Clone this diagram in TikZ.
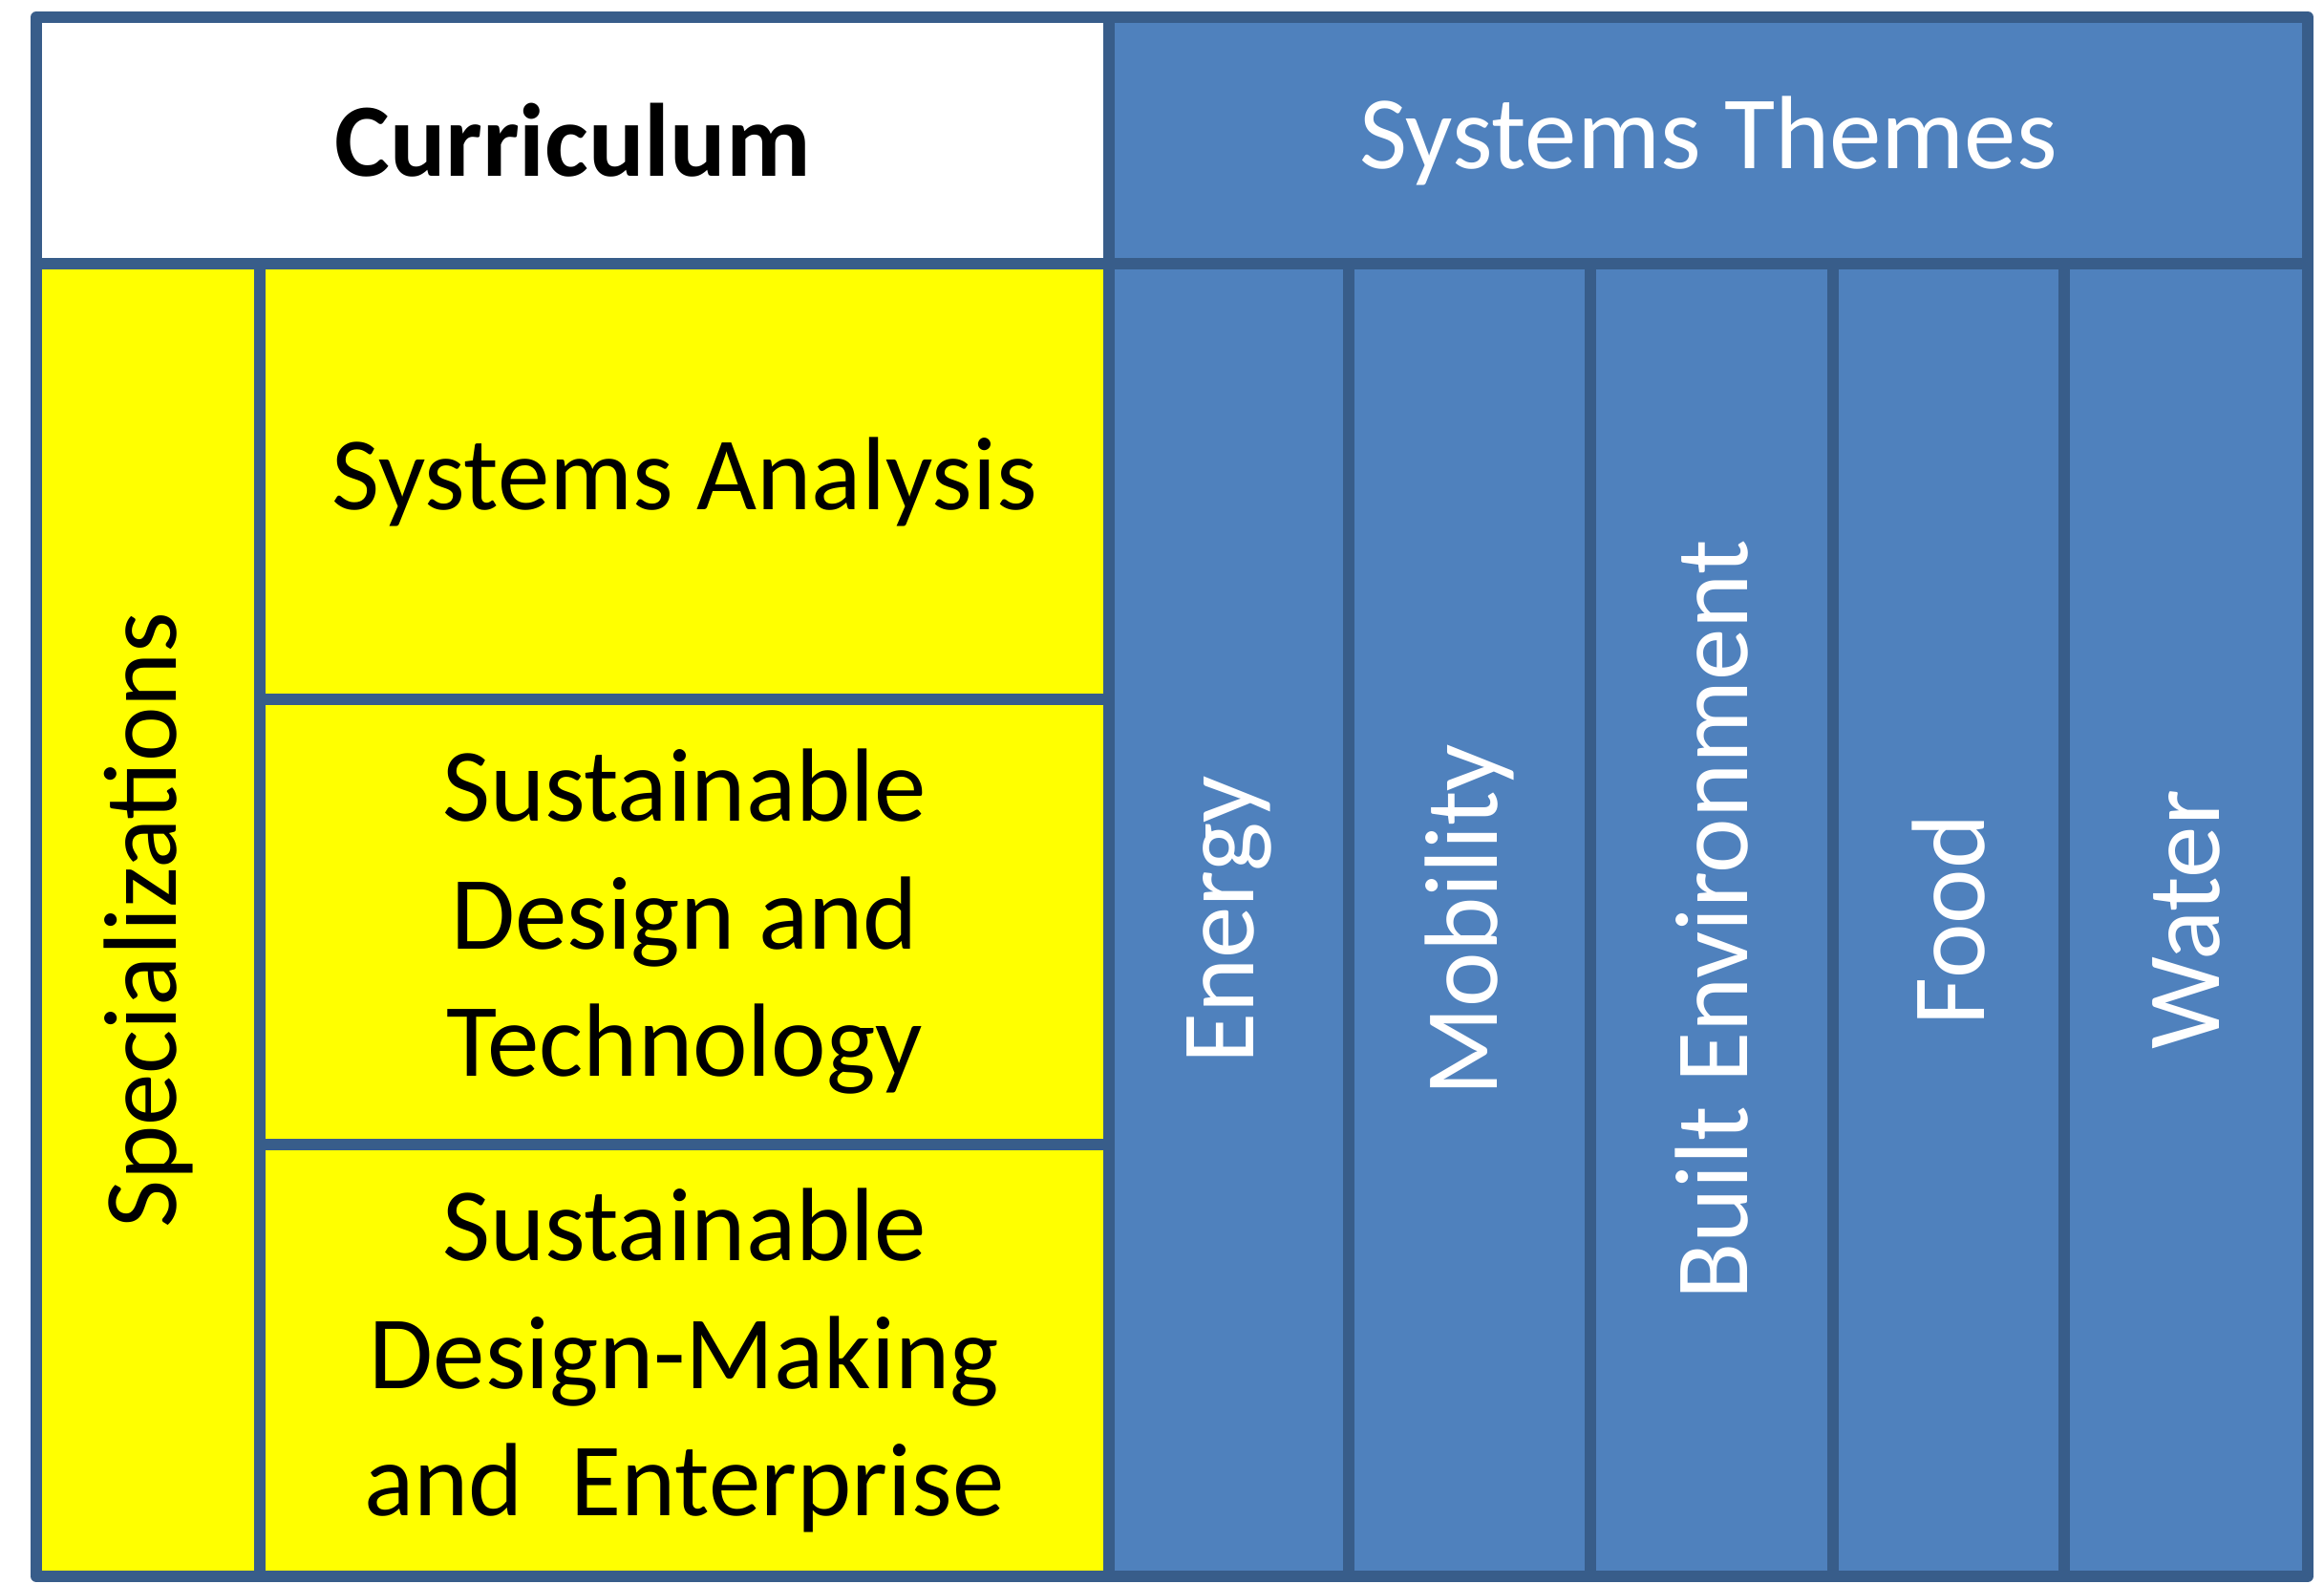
\documentclass[tikz,border=0pt]{standalone}
\usepackage{fontspec}
\setmainfont{Carlito}
\usepackage{graphicx}
\usepackage{tikz}
\usetikzlibrary{positioning}

\definecolor{frameblue}{HTML}{385D8A}
\definecolor{themeblue}{HTML}{4F81BD}
\definecolor{specyellow}{HTML}{FFFF00}

\begin{document}
\begin{tikzpicture}[
    cell/.style = {draw = frameblue, line width = 3.4pt, line join = round,
        inner sep = 0, outer sep = 0, align = center,
        font = \fontsize{31}{38}\selectfont},
    speccell/.style = {cell, fill = specyellow, text = black},
    themecell/.style = {cell, fill = themeblue, text = white, minimum height = 13.74cm}
]
    \useasboundingbox (0, 0) rectangle (24.33, 16.58);

    %% header
    \node[cell, fill = white, anchor = north west, minimum width = 11.23cm, minimum height = 2.58cm]
        (curriculum) at (0.38, 16.40) {\bfseries Curriculum};
    \node[cell, fill = themeblue, text = white, minimum width = 12.55cm, minimum height = 2.58cm,
        right = 0 of curriculum] (themeshead) {Systems Themes};

    %% specializations
    \node[speccell, minimum width = 2.34cm, minimum height = 13.74cm,
        below right = 0 and 0 of curriculum.south west] (spec) {\rotatebox{90}{Specializations}};
    \node[speccell, minimum width = 8.89cm, minimum height = 4.56cm,
        below right = 0 and 0 of spec.north east] (analysis) {Systems Analysis};
    \node[speccell, minimum width = 8.89cm, minimum height = 4.66cm,
        below = 0 of analysis] (designtech) {Sustainable\\ Design and\\ Technology};
    \node[speccell, minimum width = 8.89cm, minimum height = 4.52cm,
        below = 0 of designtech] (enterprise) {Sustainable\\ Design-Making\\ and\ \ Enterprise};

    %% themes
    \node[themecell, minimum width = 2.51cm,
        below right = 0 and 0 of themeshead.south west] (energy) {\rotatebox{90}{Energy}};
    \node[themecell, minimum width = 2.53cm, right = 0 of energy] (mobility) {\rotatebox{90}{Mobility}};
    \node[themecell, minimum width = 2.54cm, right = 0 of mobility] (built) {\rotatebox{90}{Built Environment}};
    \node[themecell, minimum width = 2.42cm, right = 0 of built] (food) {\rotatebox{90}{Food}};
    \node[themecell, minimum width = 2.55cm, right = 0 of food] (water) {\rotatebox{90}{Water}};
\end{tikzpicture}
\end{document}
